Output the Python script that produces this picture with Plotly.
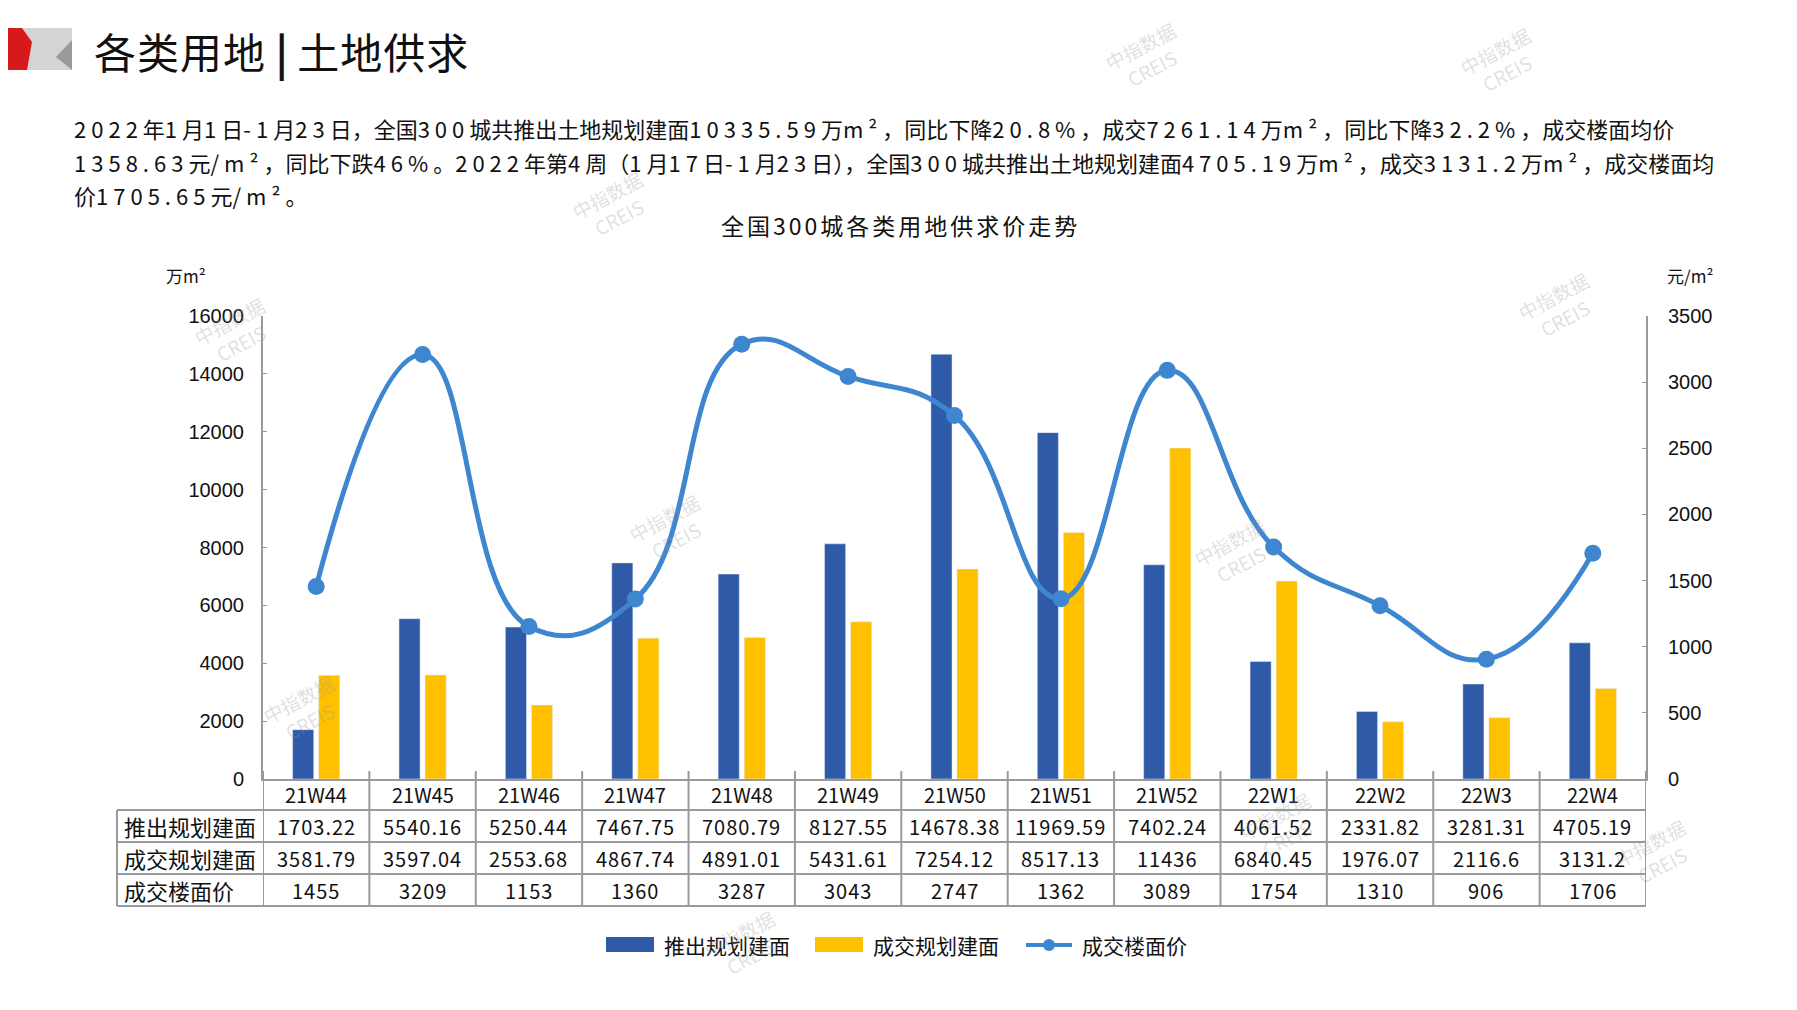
import re
import plotly.graph_objects as go

weeks = ["21W44", "21W45", "21W46", "21W47", "21W48", "21W49", "21W50",
         "21W51", "21W52", "22W1", "22W2", "22W3", "22W4"]
supply = [1703.22, 5540.16, 5250.44, 7467.75, 7080.79, 8127.55, 14678.38,
          11969.59, 7402.24, 4061.52, 2331.82, 3281.31, 4705.19]
deal = [3581.79, 3597.04, 2553.68, 4867.74, 4891.01, 5431.61, 7254.12,
        8517.13, 11436, 6840.45, 1976.07, 2116.6, 3131.2]
price = [1455, 3209, 1153, 1360, 3287, 3043, 2747, 1362, 3089, 1754, 1310, 906, 1706]

row_names = ["推出规划建面", "成交规划建面", "成交楼面价"]

para_lines = [
    "2022年1月1日-1月23日，全国300城共推出土地规划建面10335.59万m²，同比下降20.8%，"
    "成交7261.14万m²，同比下降32.2%，成交楼面均价",
    "1358.63元/m²，同比下跌46%。2022年第4周（1月17日-1月23日），全国300城共推出土地"
    "规划建面4705.19万m²，成交3131.2万m²，成交楼面均",
    "价1705.65元/m²。",
]

BLUE = "#2F5AA8"
YELLOW = "#FFC000"
LINE = "#3E86CF"
GRID = "#9A9A9A"
CJK = "Noto Sans CJK SC"
INK = "#111"

# plot area in page pixels (page body has an 8px margin)
L, R, T, B = 263, 1646, 316, 779
W, H = 1781, 994


def px(x):
    return (x - L) / (R - L)


def py(y):
    return (B - y) / (B - T)


def wide(s, sp):
    # the source font sets latin/digits on a wide pitch
    return re.sub(r"([\x21-\x7e²]+)", rf'<span style="letter-spacing:{sp}px">\1</span>', s)


def spaced(s, sp):
    return f'<span style="letter-spacing:{sp}px">{s}</span>'


def note(x, y, text, size, family=CJK, xanchor="center", **kw):
    return dict(xref="paper", yref="paper", x=px(x), y=py(y), xanchor=xanchor,
                yanchor="middle", showarrow=False, text=text,
                font=dict(family=family, size=size, color=kw.pop("color", INK)), **kw)


fig = go.Figure()
fig.add_trace(go.Bar(x=weeks, y=supply, name=row_names[0], marker_color=BLUE))
fig.add_trace(go.Bar(x=weeks, y=deal, name=row_names[1], marker_color=YELLOW))
fig.add_trace(go.Scatter(
    x=weeks, y=price, name=row_names[2], yaxis="y2",
    mode="lines+markers", line=dict(color=LINE, width=5, shape="spline", smoothing=1.3),
    marker=dict(size=17, color=LINE),
))

annotations = []
shapes = []

# header logo + title
shapes.append(dict(type="rect", xref="paper", yref="paper",
                   x0=px(22), x1=px(72), y0=py(28), y1=py(70),
                   fillcolor="#D4D4D4", line_width=0, layer="above"))
shapes.append(dict(type="path", xref="paper", yref="paper",
                   path=f"M {px(72)},{py(40)} L {px(72)},{py(70)} L {px(56)},{py(57)} Z",
                   fillcolor="#9A9A9A", line_width=0, layer="above"))
shapes.append(dict(type="path", xref="paper", yref="paper",
                   path=f"M {px(0)},{py(28)} L {px(22)},{py(28)} L {px(32)},{py(42)} "
                        f"L {px(27)},{py(70)} L {px(0)},{py(70)} Z",
                   fillcolor="#D7191C", line_width=0, layer="above"))
annotations.append(note(92, 50, spaced("各类用地", 1) + " <b>|</b> " + spaced("土地供求", 1),
                        42, xanchor="left"))

for line_txt, yy in zip(para_lines, [128, 162, 195]):
    annotations.append(note(72, yy, wide(line_txt, 5), 22, xanchor="left"))

annotations.append(note(900, 225, spaced("全国300城各类用地供求价走势", 3), 23))
annotations.append(note(186, 275, "万m²", 17))
annotations.append(note(1690, 275, "元/m²", 17))

# data table under the plot
row_y = [794.5, 826, 858, 890]
for i, w in enumerate(weeks):
    annotations.append(dict(xref="x", yref="paper", x=w, y=py(row_y[0]), showarrow=False,
                            xanchor="center", yanchor="middle", text=w,
                            font=dict(family=CJK, size=20, color=INK)))
    for j, series in enumerate([supply, deal, price]):
        annotations.append(dict(xref="x", yref="paper", x=w, y=py(row_y[j + 1]),
                                xanchor="center", yanchor="middle", showarrow=False,
                                text=wide(str(series[i]), 1),
                                font=dict(family=CJK, size=20, color=INK)))
for j, name in enumerate(row_names):
    annotations.append(note(122, row_y[j + 1], name, 22, xanchor="left"))

line = dict(color=GRID, width=2)
for k in range(len(weeks) + 1):
    shapes.append(dict(type="line", xref="x", yref="paper", x0=k - 0.5, x1=k - 0.5,
                       y0=py(771), y1=py(906), line=line))
shapes.append(dict(type="line", xref="paper", yref="paper", x0=px(117), x1=px(117),
                   y0=py(810), y1=py(906), line=line))
for yy in [810, 842, 874, 906]:
    shapes.append(dict(type="line", xref="paper", yref="paper", x0=px(117), x1=1,
                       y0=py(yy), y1=py(yy), line=line))

# hand-drawn legend (wide swatches like the source)
shapes.append(dict(type="rect", xref="paper", yref="paper", x0=px(606), x1=px(654),
                   y0=py(937), y1=py(952), fillcolor=BLUE, line_width=0))
annotations.append(note(662, 945, row_names[0], 21, xanchor="left"))
shapes.append(dict(type="rect", xref="paper", yref="paper", x0=px(815), x1=px(863),
                   y0=py(937), y1=py(952), fillcolor=YELLOW, line_width=0))
annotations.append(note(871, 945, row_names[1], 21, xanchor="left"))
shapes.append(dict(type="line", xref="paper", yref="paper", x0=px(1026), x1=px(1072),
                   y0=py(945), y1=py(945), line=dict(color=LINE, width=4)))
shapes.append(dict(type="circle", xref="paper", yref="paper", x0=px(1043), x1=px(1055),
                   y0=py(951), y1=py(939), fillcolor=LINE, line_width=0))
annotations.append(note(1080, 945, row_names[2], 21, xanchor="left"))

# watermarks
marks = [(1146, 57), (1501, 62), (613, 206), (235, 332), (1559, 307), (670, 529),
         (1235, 553), (304, 710), (1281, 827), (1656, 854), (745, 945)]
for mx, my in marks:
    annotations.append(note(mx, my, "中指数据<br>CREIS", 19, textangle=-28,
                            color="rgba(150,150,150,0.3)"))

fig.update_layout(
    width=W, height=H,
    margin=dict(l=L - 8, r=W + 8 - R, t=T - 8, b=H + 8 - B),
    paper_bgcolor="white", plot_bgcolor="white",
    barmode="group", bargap=0.51, bargroupgap=0.19,
    showlegend=False,
    xaxis=dict(range=[-0.5, 12.5], showticklabels=False, showline=True, linecolor=GRID,
               linewidth=2, ticks="", showgrid=False, zeroline=False),
    yaxis=dict(range=[0, 16000], dtick=2000, tickformat="d", showline=True, linecolor=GRID,
               linewidth=2, ticks="inside", ticklen=4, tickcolor=GRID, showgrid=False,
               zeroline=False, ticklabelstandoff=13,
               tickfont=dict(family="Liberation Sans", size=20, color=INK)),
    yaxis2=dict(range=[0, 3500], dtick=500, tickformat="d", overlaying="y", side="right",
                showline=True, linecolor=GRID, linewidth=2, ticks="inside", ticklen=4,
                tickcolor=GRID, showgrid=False, zeroline=False, ticklabelstandoff=16,
                tickfont=dict(family="Liberation Sans", size=20, color=INK)),
    annotations=annotations,
    shapes=shapes,
)

fig.write_html("out.html")
